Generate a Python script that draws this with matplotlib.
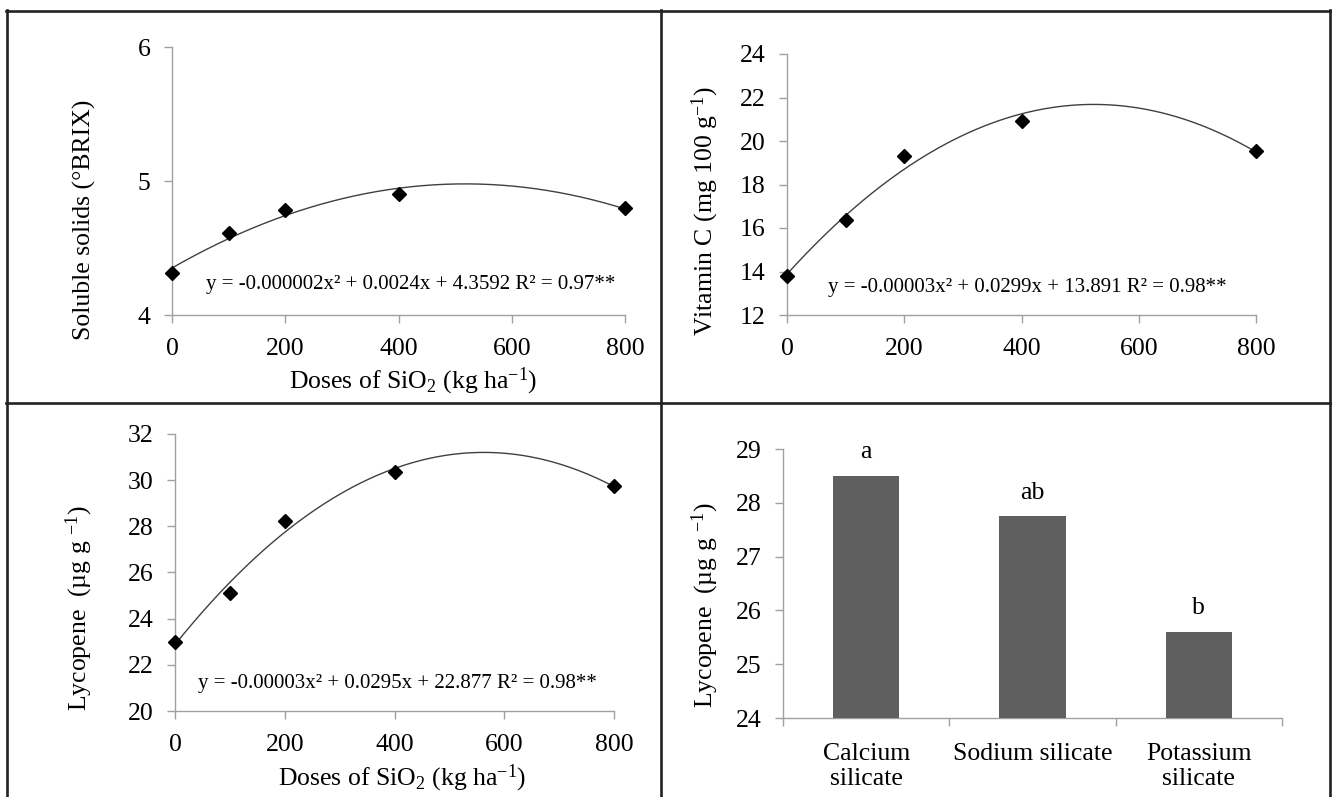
import numpy as np
import matplotlib
matplotlib.use('Agg')
import matplotlib.pyplot as plt
from matplotlib.lines import Line2D

plt.rcParams['font.family'] = ['Liberation Serif', 'DejaVu Serif']
plt.rcParams['mathtext.fontset'] = 'custom'
plt.rcParams['mathtext.rm'] = 'Liberation Serif'
plt.rcParams['mathtext.it'] = 'Liberation Serif:italic'

# values
doses = [0, 100, 200, 400, 800]
soluble_solids = [4.31, 4.61, 4.78, 4.90, 4.80]
vitamin_c = [13.8, 16.35, 19.3, 20.9, 19.55]
lycopene = [23.0, 25.1, 28.24, 30.34, 29.74]

silicates = ['Calcium\nsilicate', 'Sodium silicate', 'Potassium\nsilicate']
lycopene_source = [28.5, 27.75, 25.6]
groups = ['a', 'ab', 'b']

eq_solids = 'y = -0.000002x² + 0.0024x + 4.3592 R² = 0.97**'
eq_vitc = 'y = -0.00003x² + 0.0299x + 13.891 R² = 0.98**'
eq_lyc = 'y = -0.00003x² + 0.0295x + 22.877 R² = 0.98**'

W, H = 1332, 797
fig = plt.figure(figsize=(W / 100, H / 100), dpi=100)
AX_GREY = '#a0a0a0'


def px_axes(l, t, r, b):
    return fig.add_axes([l / W, 1 - b / H, (r - l) / W, (b - t) / H])


def style(ax):
    for s in ['top', 'right']:
        ax.spines[s].set_visible(False)
    for s in ['left', 'bottom']:
        ax.spines[s].set_color(AX_GREY)
        ax.spines[s].set_linewidth(1)
    ax.tick_params(axis='both', length=5.5, width=1, color=AX_GREY, labelsize=18.5)
    ax.tick_params(axis='y', pad=10)
    ax.tick_params(axis='x', pad=11)


def scatter_panel(ax, y, ylim, yticks, eq, eq_pos):
    xs = np.linspace(0, 800, 200)
    coef = np.polyfit(doses, y, 2)
    ax.plot(xs, np.polyval(coef, xs), color='#404040', lw=1)
    ax.plot(doses, y, 'D', color='black', ms=7.5, clip_on=False, zorder=5)
    ax.set_xlim(0, 800)
    ax.set_ylim(*ylim)
    ax.set_xticks([0, 200, 400, 600, 800])
    ax.set_yticks(yticks)
    style(ax)
    ax.text(eq_pos[0], eq_pos[1], eq, transform=ax.transAxes, fontsize=15,
            ha='left', va='center')


def fig_text(x, y, s, **kw):
    fig.text(x / W, 1 - y / H, s, ha='center', va='center', fontsize=18.5, **kw)


# top left
ax1 = px_axes(172, 47, 625, 315)
scatter_panel(ax1, soluble_solids, (4, 6), [4, 5, 6], eq_solids, (0.075, 0.112))
fig_text(84, 220, 'Soluble solids (°BRIX)', rotation=90)
fig_text(413, 381, r'Doses of SiO$_{\mathregular{2}}$ (kg ha$^{\mathregular{-1}}$)')

# top right
ax2 = px_axes(787, 54, 1256, 315)
scatter_panel(ax2, vitamin_c, (12, 24), range(12, 25, 2), eq_vitc, (0.087, 0.107))
fig_text(705, 211, r'Vitamin C (mg 100 g$^{\mathregular{-1}}$)', rotation=90)

# bottom left
ax3 = px_axes(175, 434, 614, 711)
scatter_panel(ax3, lycopene, (20, 32), range(20, 33, 2), eq_lyc, (0.052, 0.101))
fig_text(79, 608, r'Lycopene  (µg g $^{\mathregular{-1}}$)', rotation=90)
fig_text(402, 778, r'Doses of SiO$_{\mathregular{2}}$ (kg ha$^{\mathregular{-1}}$)')

# bottom right
ax4 = px_axes(783, 449, 1282, 718)
pos = np.arange(len(silicates)) + 0.5
ax4.bar(pos, lycopene_source, width=0.4, color='#5f5f5f', zorder=3)
ax4.set_xlim(0, 3)
ax4.set_ylim(24, 29)
style(ax4)
ax4.set_xticks([0, 1, 2, 3])
ax4.set_xticklabels([])
ax4.set_xticks(pos, minor=True)
ax4.set_xticklabels(silicates, minor=True, linespacing=1.15)
ax4.tick_params(axis='x', which='minor', length=0, pad=18, labelsize=18.5)
for p, v, g in zip(pos, lycopene_source, groups):
    ax4.annotate(g, (p, v), xytext=(0, 17), textcoords='offset points',
                 ha='center', va='center', fontsize=18.5)
fig_text(705, 605, r'Lycopene  (µg g $^{\mathregular{-1}}$)', rotation=90)

# panel frame
frame = dict(color='#222222', lw=1.9, solid_capstyle='projecting')
for xs, ys in [([6, 1331], [10.5, 10.5]), ([6, 1331], [403, 403]),
               ([7, 7], [10, 797]), ([661, 661], [10, 797]),
               ([1329.5, 1329.5], [10, 797])]:
    fig.add_artist(Line2D([x / W for x in xs], [1 - y / H for y in ys], **frame))

fig.savefig('out.png', dpi=100, facecolor='white')
